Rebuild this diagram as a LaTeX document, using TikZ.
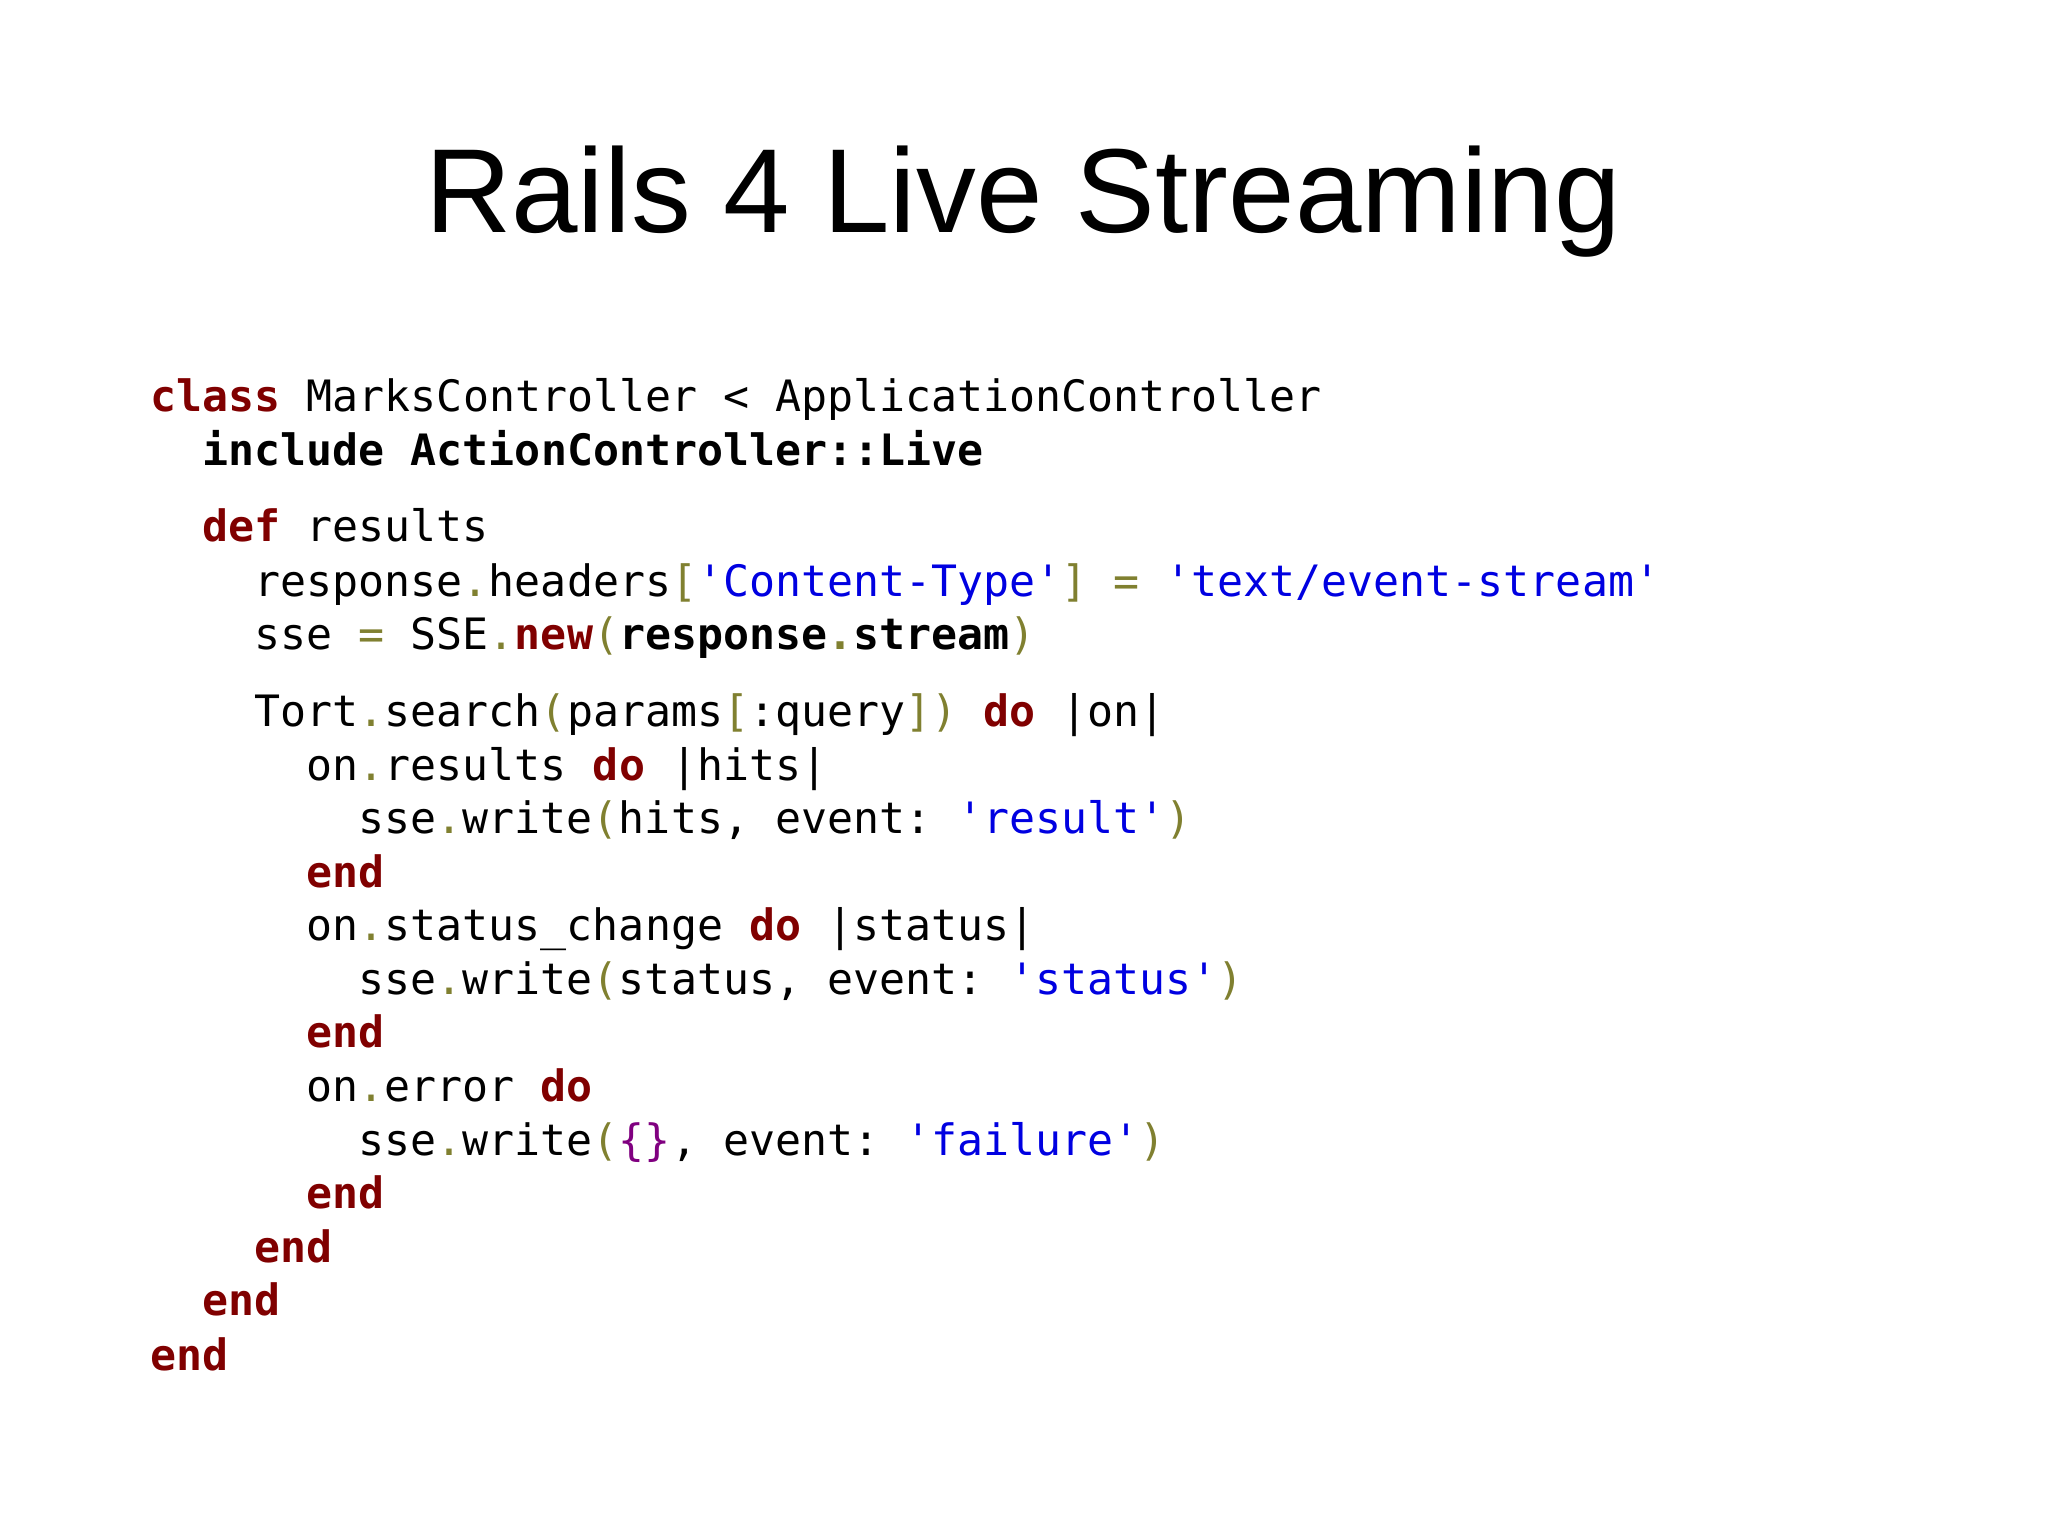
\documentclass[tikz,border=0pt]{standalone}
\usepackage{fontspec}
\setmainfont{Liberation Sans}
\setmonofont{DejaVu Sans Mono}
\definecolor{kwc}{RGB}{128,0,0}
\definecolor{puc}{RGB}{128,128,48}
\definecolor{stc}{RGB}{0,0,225}
\definecolor{brc}{RGB}{128,0,128}
\newcommand{\kw}[1]{\textcolor{kwc}{\bfseries #1}}
\newcommand{\pu}[1]{\textcolor{puc}{#1}}
\newcommand{\sq}[1]{\textcolor{stc}{#1}}
\tikzset{code/.style={anchor=base west,inner sep=0pt,font=\ttfamily\fontsize{12.3pt}{14pt}\selectfont}}
\begin{document}
\begin{tikzpicture}[x=1cm,y=-1cm]
\useasboundingbox (0,0) rectangle (20.48,15.35);
\node[anchor=base,inner sep=0pt,font=\fontsize{34pt}{40pt}\selectfont] (title) at (10.23,2.32) {Rails 4 Live Streaming};
\node[code] (l1) at (1.50,4.11) {\kw{class} MarksController < ApplicationController};
\node[code] (l2) at (2.02,4.65) {\bfseries include ActionController::Live};
\node[code] (l3) at (2.02,5.41) {\kw{def} results};
\node[code] (l4) at (2.54,5.96) {response\pu{.}headers\pu{[}\sq{'Content-Type'}\pu{]} \pu{=} \sq{'text/event-stream'}};
\node[code] (l5) at (2.54,6.49) {sse \pu{=} SSE\pu{.}\kw{new}\pu{(}\textbf{response\pu{.}stream}\pu{)}};
\node[code] (l6) at (2.54,7.26) {Tort\pu{.}search\pu{(}params\pu{[}:query\pu{])} \kw{do} |on|};
\node[code] (l7) at (3.06,7.80) {on\pu{.}results \kw{do} |hits|};
\node[code] (l8) at (3.58,8.33) {sse\pu{.}write\pu{(}hits, event: \sq{'result'}\pu{)}};
\node[code] (l9) at (3.06,8.87) {\kw{end}};
\node[code] (l10) at (3.06,9.40) {on\pu{.}status\_change \kw{do} |status|};
\node[code] (l11) at (3.58,9.94) {sse\pu{.}write\pu{(}status, event: \sq{'status'}\pu{)}};
\node[code] (l12) at (3.06,10.47) {\kw{end}};
\node[code] (l13) at (3.06,11.01) {on\pu{.}error \kw{do}};
\node[code] (l14) at (3.58,11.55) {sse\pu{.}write\pu{(}\textcolor{brc}{\{\}}, event: \sq{'failure'}\pu{)}};
\node[code] (l15) at (3.06,12.08) {\kw{end}};
\node[code] (l16) at (2.54,12.62) {\kw{end}};
\node[code] (l17) at (2.02,13.15) {\kw{end}};
\node[code] (l18) at (1.50,13.70) {\kw{end}};
\end{tikzpicture}
\end{document}
